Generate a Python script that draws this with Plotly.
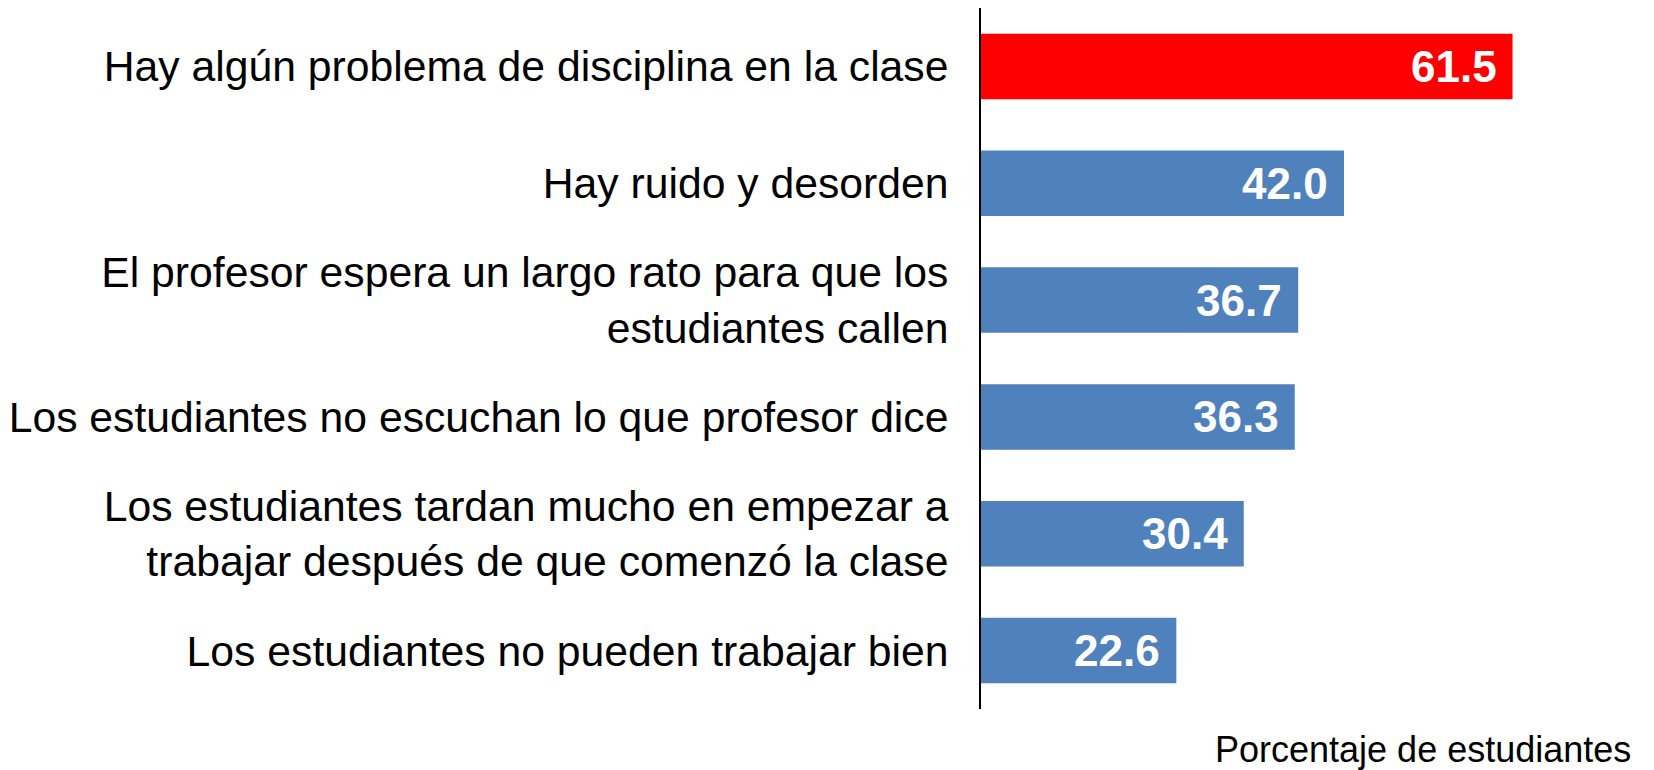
import plotly.graph_objects as go

# categories (top to bottom) and percentages
labels = [
    "Hay algún problema de disciplina en la clase",
    "Hay ruido y desorden",
    "El profesor espera un largo rato para que los<br>estudiantes callen",
    "Los estudiantes no escuchan lo que profesor dice",
    "Los estudiantes tardan mucho en empezar a<br>trabajar después de que comenzó la clase",
    "Los estudiantes no pueden trabajar bien",
]
values = [61.5, 42.0, 36.7, 36.3, 30.4, 22.6]
colors = ["#FF0000", "#4F81BD", "#4F81BD", "#4F81BD", "#4F81BD", "#4F81BD"]

fig = go.Figure(go.Bar(
    x=values, y=labels, orientation="h",
    marker=dict(color=colors, line=dict(width=0)),
    hoverinfo="x+y",
))

# value labels at the end of each bar, white bold
for lab, v in zip(labels, values):
    fig.add_annotation(x=v, y=lab, text="<b>%.1f</b>" % v, showarrow=False,
                       xanchor="right", xshift=-14, yshift=0,
                       font=dict(family="Liberation Sans, Arial", size=44, color="white"))

fig.add_annotation(text="Porcentaje de estudiantes", xref="paper", yref="paper",
                   x=1.078, y=-0.058, xanchor="right", yanchor="middle", showarrow=False,
                   font=dict(family="Liberation Sans, Arial", size=36, color="black"))

# page body has an 8px margin, so the figure is 8px smaller than the window
fig.update_layout(
    width=1646, height=762,
    margin=dict(l=973, r=68, t=0, b=61),
    paper_bgcolor="white", plot_bgcolor="white",
    bargap=0.44, showlegend=False,
    font=dict(family="Liberation Sans, Arial", color="black"),
)
fig.update_xaxes(range=[0, 70], visible=False, showgrid=False, zeroline=False)
fig.update_yaxes(autorange="reversed", showgrid=False, zeroline=False,
                 showline=True, linecolor="black", linewidth=2,
                 ticks="", ticklabelstandoff=22,
                 tickfont=dict(family="Liberation Sans, Arial", size=42.7, color="black"))

fig.write_html("out.html")
